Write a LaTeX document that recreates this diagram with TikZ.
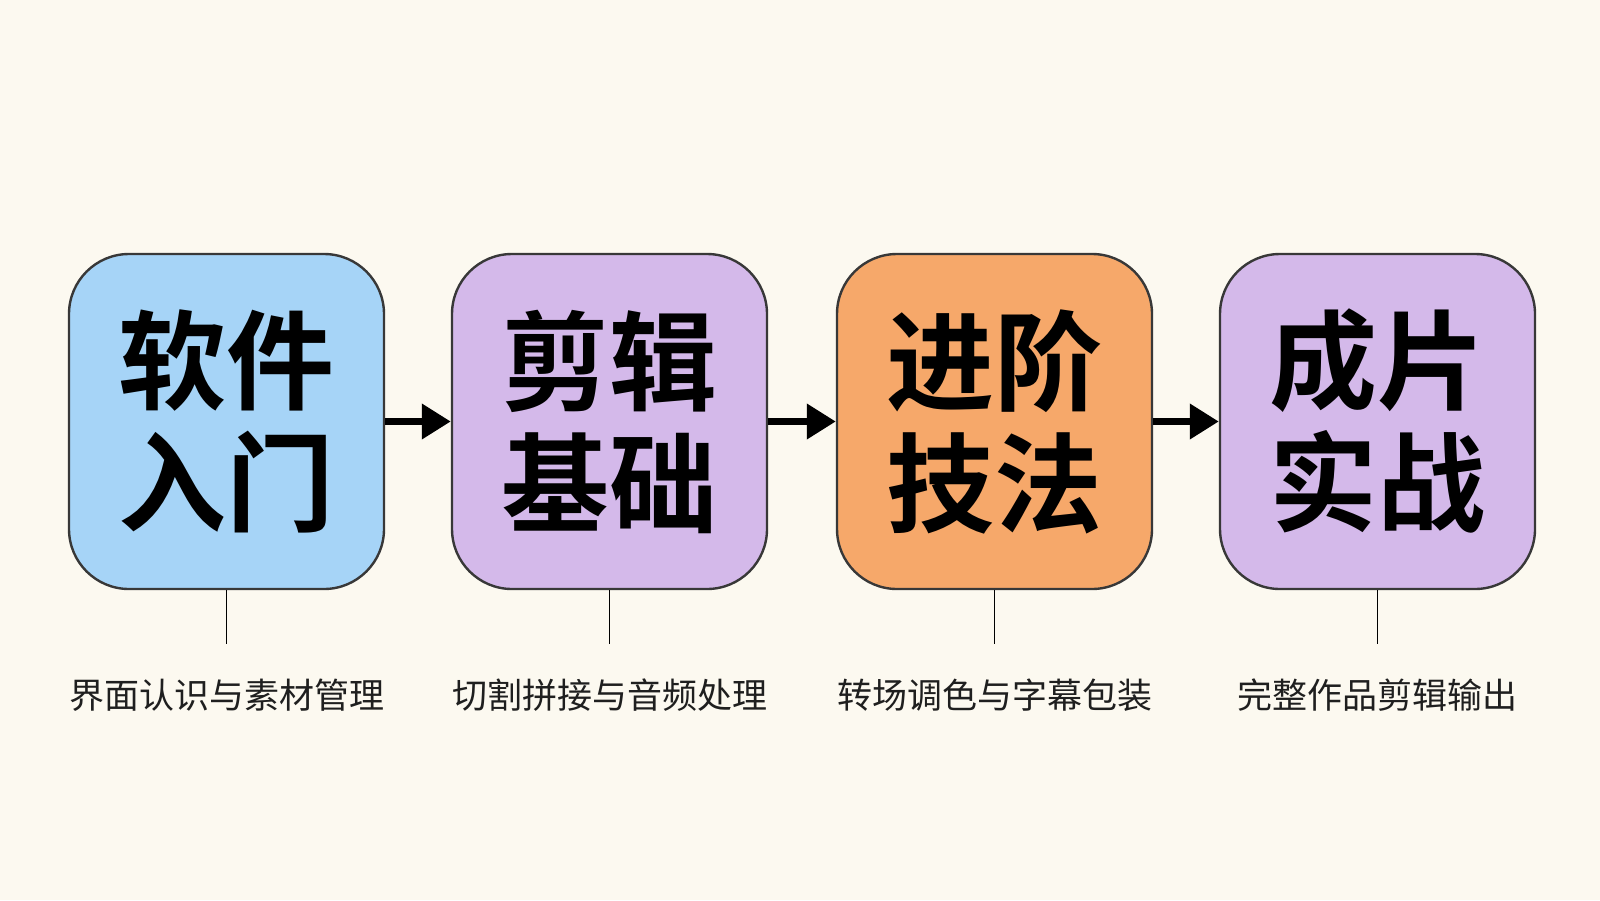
\documentclass[tikz,border=0pt]{standalone}
\usepackage{fontspec}
\usepackage{tikz}
\usetikzlibrary{arrows.meta}
\setmainfont{Noto Sans CJK SC}
\newfontfamily\cjkbold{Noto Sans CJK SC Bold}

\definecolor{paper}{HTML}{FCF9F0}
\definecolor{stageblue}{HTML}{A6D4F7}
\definecolor{stagelilac}{HTML}{D4B9EA}
\definecolor{stageorange}{HTML}{F6A86A}
\definecolor{edge}{HTML}{383838}

\tikzset{
  stage/.style={draw=edge,line width=1.2pt,rounded corners=30pt,
    minimum width=157.5pt,minimum height=167.5pt,align=center,
    font=\cjkbold\fontsize{54pt}{61pt}\selectfont},
  flow/.style={line width=3.5pt,-{Triangle[length=14.5pt,width=17pt]}},
  stem/.style={draw=black,line width=0.8pt,shorten >=17pt},
  note/.style={inner sep=0pt,font=\fontsize{17.5pt}{20pt}\selectfont,text=black!88}
}

\begin{document}
\begin{tikzpicture}[x=0.5pt,y=-0.5pt]
        \fill[paper] (0,0) rectangle (1600,900);
        \useasboundingbox (0,0) rectangle (1600,900);

        \node[stage,fill=stageblue] (b1) at (226.5,421.5) {软件\\入门};
        \node[stage,fill=stagelilac] (b2) at (609.5,421.5) {剪辑\\基础};
        \node[stage,fill=stageorange] (b3) at (994.5,421.5) {进阶\\技法};
        \node[stage,fill=stagelilac] (b4) at (1377.5,421.5) {成片\\实战};

        \draw[flow] (b1.east) -- (b2.west);
        \draw[flow] (b2.east) -- (b3.west);
        \draw[flow] (b3.east) -- (b4.west);

        \node[note] (l1) at (226.5,695) {界面认识与素材管理};
        \node[note] (l2) at (609.5,695) {切割拼接与音频处理};
        \node[note] (l3) at (994.5,695) {转场调色与字幕包装};
        \node[note] (l4) at (1377.5,695) {完整作品剪辑输出};

        \draw[stem] (b1.south) -- (l1.north);
        \draw[stem] (b2.south) -- (l2.north);
        \draw[stem] (b3.south) -- (l3.north);
        \draw[stem] (b4.south) -- (l4.north);
      \end{tikzpicture}
\end{document}
